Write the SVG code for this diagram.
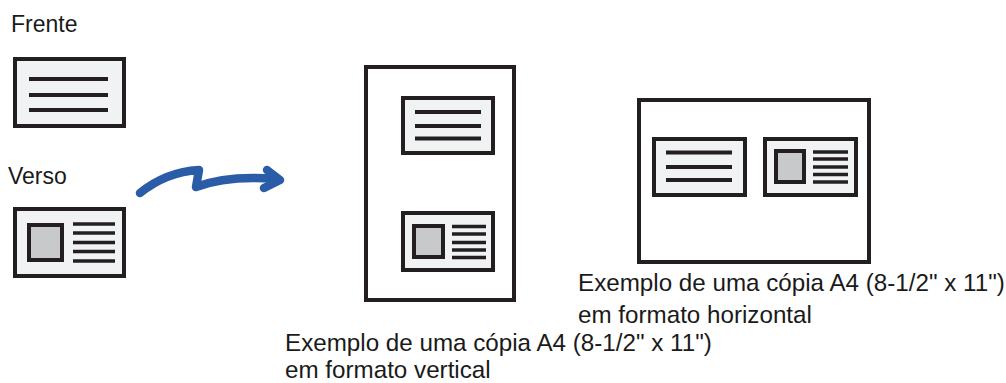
<svg xmlns="http://www.w3.org/2000/svg" width="1006" height="383" viewBox="0 0 1006 383">
<style>
.lbl{font-family:"Liberation Sans",Arial,sans-serif;fill:#1a1a1a}
.t22{font-size:23px}
.t24{font-size:24.2px}
.page{fill:#fff;stroke:#231f20;stroke-width:4}
.card{fill:#f1f2f3;stroke:#231f20;stroke-width:4}
.photo{fill:#c8c9ca;stroke:#231f20;stroke-width:4}
.ln{stroke:#231f20;stroke-width:4}
.ln2{stroke:#231f20;stroke-width:3.5}
.arrow{fill:none;stroke:#2a5ca8;stroke-width:8.5;stroke-linecap:round;stroke-linejoin:round}
</style>
<rect width="1006" height="383" fill="#fff"/>

<g id="frente">
<text class="lbl t22" x="11" y="32">Frente</text>
<rect class="card" x="15" y="59" width="109" height="67"/>
<line class="ln" x1="29" y1="79" x2="108" y2="79"/>
<line class="ln" x1="29" y1="95" x2="108" y2="95"/>
<line class="ln" x1="29" y1="110" x2="108" y2="110"/>
</g>

<g id="verso">
<text class="lbl t22" x="8" y="184">Verso</text>
<rect class="card" x="15" y="209" width="109" height="67"/>
<rect class="photo" x="29" y="225" width="33" height="35"/>
<line class="ln2" x1="73" y1="224" x2="115" y2="224"/>
<line class="ln2" x1="73" y1="233" x2="115" y2="233"/>
<line class="ln2" x1="73" y1="242.5" x2="115" y2="242.5"/>
<line class="ln2" x1="73" y1="251.5" x2="115" y2="251.5"/>
<line class="ln2" x1="73" y1="261" x2="115" y2="261"/>
</g>

<g id="connectors">
<path class="arrow" d="M140,193 Q166,172 199,170 L196,187 Q228,175 276,179"/>
<path class="arrow" d="M267,170 L280,180 L264,188"/>
</g>

<g id="vertical-page">
<rect class="page" x="366" y="67" width="148" height="233"/>
<rect class="card" x="403" y="98" width="90" height="55"/>
<line class="ln" x1="415" y1="112" x2="481" y2="112"/>
<line class="ln" x1="415" y1="126" x2="481" y2="126"/>
<line class="ln" x1="415" y1="138.5" x2="481" y2="138.5"/>
<rect class="card" x="403" y="213" width="90" height="57"/>
<rect class="photo" x="414" y="226" width="29" height="31"/>
<line class="ln2" x1="452" y1="226.5" x2="486" y2="226.5"/>
<line class="ln2" x1="452" y1="234" x2="486" y2="234"/>
<line class="ln2" x1="452" y1="242.5" x2="486" y2="242.5"/>
<line class="ln2" x1="452" y1="250" x2="486" y2="250"/>
<line class="ln2" x1="452" y1="257.5" x2="486" y2="257.5"/>
<text class="lbl t24" x="285" y="351">Exemplo de uma cópia A4 (8-1/2" x 11")</text>
<text class="lbl t24" x="285" y="377.5">em formato vertical</text>
</g>

<g id="horizontal-page">
<rect class="page" x="639" y="100" width="230" height="162"/>
<rect class="card" x="654" y="139" width="91" height="56"/>
<line class="ln" x1="666" y1="152.5" x2="732" y2="152.5"/>
<line class="ln" x1="666" y1="167" x2="732" y2="167"/>
<line class="ln" x1="666" y1="180" x2="732" y2="180"/>
<rect class="card" x="765" y="139" width="91" height="56"/>
<rect class="photo" x="776" y="151" width="28" height="31"/>
<line class="ln2" x1="813" y1="152" x2="848" y2="152"/>
<line class="ln2" x1="813" y1="159" x2="848" y2="159"/>
<line class="ln2" x1="813" y1="167" x2="848" y2="167"/>
<line class="ln2" x1="813" y1="174.5" x2="848" y2="174.5"/>
<line class="ln2" x1="813" y1="182" x2="848" y2="182"/>
<text class="lbl t24" x="578" y="291">Exemplo de uma cópia A4 (8-1/2" x 11")</text>
<text class="lbl t24" x="578" y="323">em formato horizontal</text>
</g>
</svg>
